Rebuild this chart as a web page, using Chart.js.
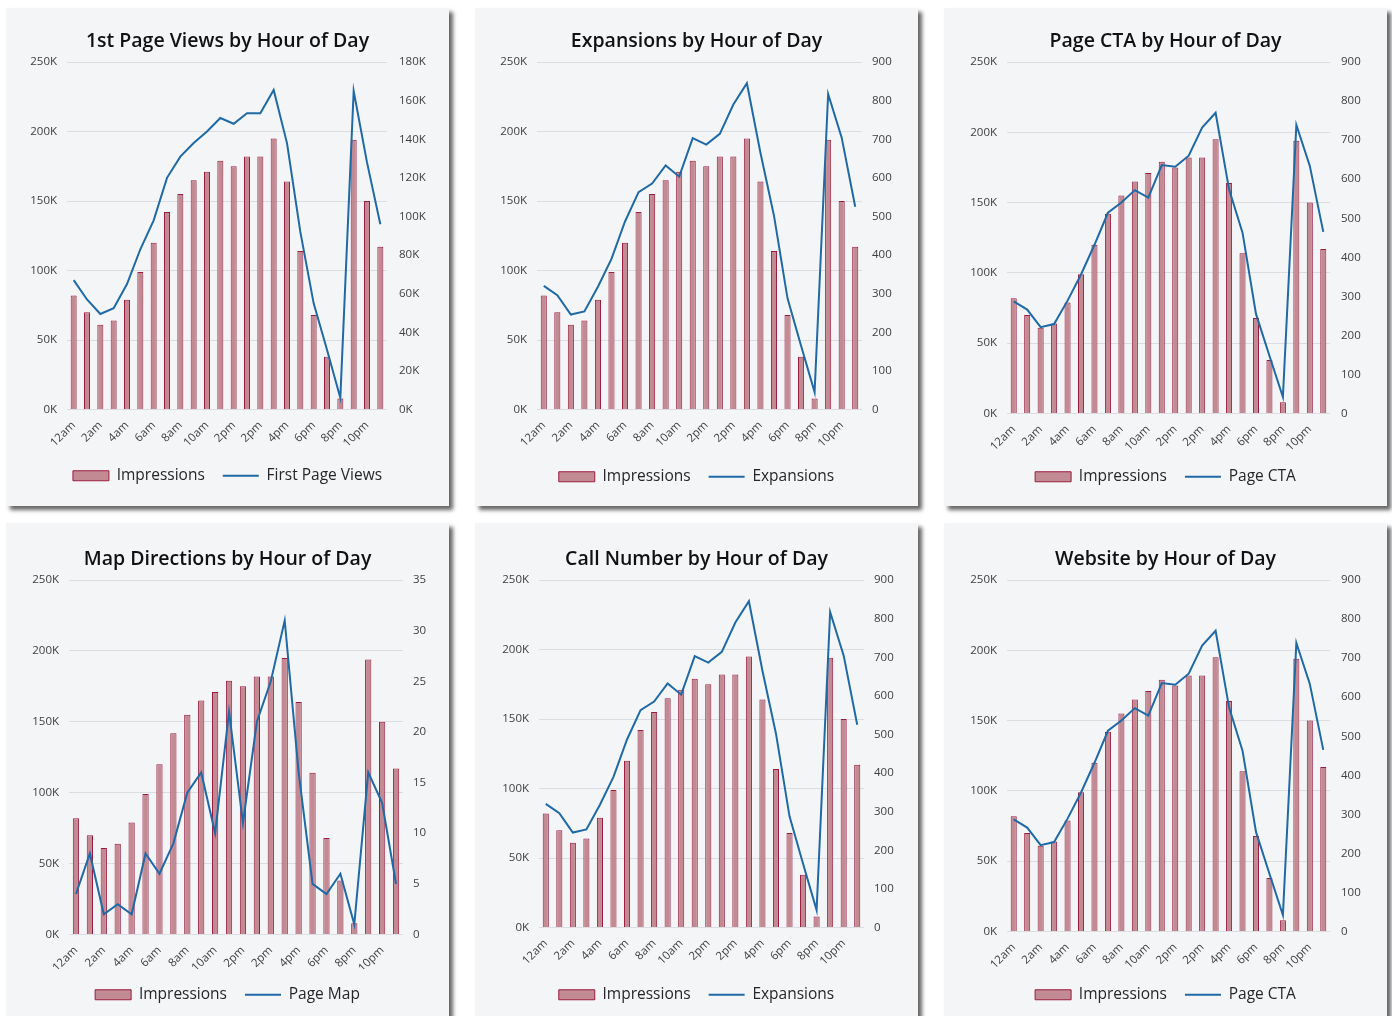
<!DOCTYPE html>
<html>
<head>
<meta charset="utf-8">
<title>Hour of Day charts</title>
<script src="https://cdn.jsdelivr.net/npm/chart.js@4.4.1/dist/chart.umd.min.js"></script>
<style>
  html, body { margin: 0; padding: 0; background: #ffffff; }
  body { width: 1392px; height: 1016px; position: relative; overflow: hidden; }
  .panel {
    position: absolute;
    width: 443px;
    height: 498px;
    background: #f4f5f7;
    box-shadow: 4px 4px 4px rgba(0, 0, 0, 0.6);
  }
</style>
</head>
<body>
<div class="panel" style="left:6px;top:8px"><canvas id="c1"></canvas></div>
<div class="panel" style="left:475px;top:8px"><canvas id="c2"></canvas></div>
<div class="panel" style="left:944px;top:8px"><canvas id="c3"></canvas></div>
<div class="panel" style="left:6px;top:523px"><canvas id="c4"></canvas></div>
<div class="panel" style="left:475px;top:523px"><canvas id="c5"></canvas></div>
<div class="panel" style="left:944px;top:523px"><canvas id="c6"></canvas></div>

<script>
  // hour labels as shown on the axis (the 13th slot reads "2pm" in the source)
  var hours = ['12am', '1am', '2am', '3am', '4am', '5am', '6am', '7am', '8am', '9am', '10am', '11am',
               '2pm', '1pm', '2pm', '3pm', '4pm', '5pm', '6pm', '7pm', '8pm', '9pm', '10pm', '11pm'];

  var impressions = [82000, 70000, 61000, 64000, 79000, 99000, 120000, 142000, 155000, 165000, 171000, 179000,
                     175000, 182000, 182000, 195000, 164000, 114000, 68000, 38000, 8000, 194000, 150000, 117000];

  var firstPageViews = [67000, 57000, 49500, 52500, 65000, 83000, 98000, 120000, 131000, 138000, 144000, 151000,
                        148000, 153500, 153500, 165500, 138000, 92000, 55000, 31000, 6000, 165000, 128000, 96000];

  var expansions = [320, 296, 246, 254, 318, 390, 487, 563, 585, 632, 603, 703,
                    686, 714, 790, 845, 665, 502, 288, 165, 45, 817, 704, 525];

  var pageCta = [287, 266, 221, 229, 289, 356, 432, 514, 540, 572, 553, 636,
                 632, 660, 732, 770, 574, 463, 255, 148, 42, 739, 634, 465];

  var pageMap = [4, 8, 2, 3, 2, 8, 6, 9, 14, 16, 10, 22,
                 11, 21, 25, 31, 16, 5, 4, 6, 1, 16, 13, 5];

  var FONT = "'Open Sans', 'Noto Sans', sans-serif";
  var BAR_FILL = '#c28a93';
  var BAR_EDGE = '#9a1c40';
  var LINE_COLOR = '#1f69a6';
  var GRID = '#dcdde1';
  var TICK = '#404040';
  var PANEL_W = 443;
  var PANEL_H = 498;

  function kFmt(v) { return (v / 1000) + 'K'; }
  function plain(v) { return v; }

  /** Build one combo chart (bars on left axis, line on right axis) */
  function makeChart(id, opts) {
    var g = opts.geom;
    var legendPad = 18;
    var legendTop = g.legendY - 7.5 - legendPad;

    new Chart(document.getElementById(id), {
      data: {
        labels: hours,
        datasets: [{
          type: 'bar',
          label: 'Impressions',
          data: impressions,
          yAxisID: 'y',
          backgroundColor: BAR_FILL,
          borderColor: BAR_EDGE,
          borderWidth: 1,
          barPercentage: 0.45,
          categoryPercentage: 1,
          pointStyle: 'rect',
          order: 1
        }, {
          type: 'line',
          label: opts.lineLabel,
          data: opts.lineData,
          yAxisID: 'y1',
          borderColor: LINE_COLOR,
          backgroundColor: LINE_COLOR,
          borderWidth: 2,
          tension: 0,
          pointRadius: 0,
          pointHoverRadius: 0,
          pointStyle: 'line',
          order: 0
        }]
      },
      options: {
        responsive: true,
        maintainAspectRatio: false,
        animation: false,
        layout: {
          autoPadding: false,
          padding: { top: 0, bottom: PANEL_H - g.legendY - 17.5, left: 0, right: 0 }
        },
        plugins: {
          tooltip: { enabled: false },
          title: {
            display: true,
            text: opts.title,
            color: '#111111',
            font: { family: FONT, size: 19.5, weight: '600', lineHeight: 1.2 },
            padding: { top: g.titleY - 11.7, bottom: g.plotTop - g.titleY - 11.7 }
          },
          legend: {
            position: 'bottom',
            labels: {
              usePointStyle: true,
              pointStyleWidth: 36,
              boxHeight: 10,
              padding: legendPad,
              color: '#262626',
              font: { family: FONT, size: 15.5 },
              sort: function (a, b) { return a.datasetIndex - b.datasetIndex; }
            }
          }
        },
        scales: {
          x: {
            grid: { display: false },
            border: { display: false },
            ticks: {
              autoSkip: false,
              minRotation: 45,
              maxRotation: 45,
              padding: 1,
              color: TICK,
              font: { family: FONT, size: 11.5 },
              callback: function (v, i) { return i % 2 ? '' : this.getLabelForValue(v); }
            },
            afterFit: function (scale) { scale.height = legendTop - g.plotBottom; }
          },
          y: {
            position: 'left',
            min: 0,
            max: 250000,
            grid: { color: GRID, lineWidth: 1, drawTicks: false },
            border: { display: false },
            ticks: {
              stepSize: 50000,
              padding: 10,
              color: TICK,
              font: { family: FONT, size: 11.5 },
              callback: kFmt
            },
            afterFit: function (scale) { scale.width = g.plotLeft; }
          },
          y1: {
            position: 'right',
            min: 0,
            max: opts.rightMax,
            grid: { display: false, drawTicks: false },
            border: { display: false },
            ticks: {
              stepSize: opts.rightStep,
              padding: g.rightPad,
              color: TICK,
              font: { family: FONT, size: 11.5 },
              callback: opts.rightFmt
            },
            afterFit: function (scale) { scale.width = PANEL_W - g.plotRight; }
          }
        }
      }
    });
  }

  makeChart('c1', {
    title: '1st Page Views by Hour of Day', lineLabel: 'First Page Views', lineData: firstPageViews,
    rightMax: 180000, rightStep: 20000, rightFmt: kFmt,
    geom: { titleY: 33, plotTop: 54, plotBottom: 402, legendY: 468, plotLeft: 61, plotRight: 381, rightPad: 12 }
  });
  makeChart('c2', {
    title: 'Expansions by Hour of Day', lineLabel: 'Expansions', lineData: expansions,
    rightMax: 900, rightStep: 100, rightFmt: plain,
    geom: { titleY: 33, plotTop: 54, plotBottom: 402, legendY: 469, plotLeft: 62, plotRight: 387, rightPad: 10 }
  });
  makeChart('c3', {
    title: 'Page CTA by Hour of Day', lineLabel: 'Page CTA', lineData: pageCta,
    rightMax: 900, rightStep: 100, rightFmt: plain,
    geom: { titleY: 33, plotTop: 54, plotBottom: 406, legendY: 469, plotLeft: 63, plotRight: 386, rightPad: 11 }
  });
  makeChart('c4', {
    title: 'Map Directions by Hour of Day', lineLabel: 'Page Map', lineData: pageMap,
    rightMax: 35, rightStep: 5, rightFmt: plain,
    geom: { titleY: 36, plotTop: 57, plotBottom: 412, legendY: 472, plotLeft: 63, plotRight: 397, rightPad: 10 }
  });
  makeChart('c5', {
    title: 'Call Number by Hour of Day', lineLabel: 'Expansions', lineData: expansions,
    rightMax: 900, rightStep: 100, rightFmt: plain,
    geom: { titleY: 36, plotTop: 57, plotBottom: 405, legendY: 472, plotLeft: 64, plotRight: 389, rightPad: 10 }
  });
  makeChart('c6', {
    title: 'Website by Hour of Day', lineLabel: 'Page CTA', lineData: pageCta,
    rightMax: 900, rightStep: 100, rightFmt: plain,
    geom: { titleY: 36, plotTop: 57, plotBottom: 409, legendY: 472, plotLeft: 63, plotRight: 386, rightPad: 11 }
  });
</script>
</body>
</html>
